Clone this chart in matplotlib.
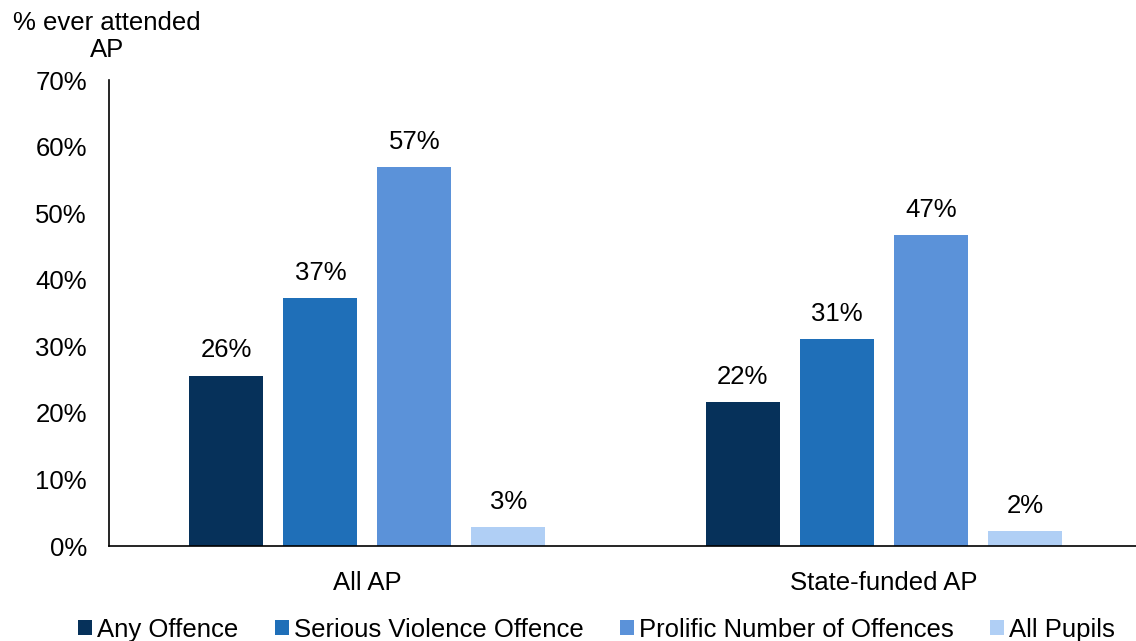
import numpy as np
import matplotlib.pyplot as plt

plt.rcParams["font.family"] = ["Liberation Sans", "DejaVu Sans"]

# Data
categories = ["All AP", "State-funded AP"]
series = ["Any Offence", "Serious Violence Offence",
          "Prolific Number of Offences", "All Pupils"]
values = [
    [25.6, 21.6],   # Any Offence
    [37.2, 31.1],   # Serious Violence Offence
    [56.9, 46.7],   # Prolific Number of Offences
    [2.9, 2.3],     # All Pupils
]
labels = [
    ["26%", "22%"],
    ["37%", "31%"],
    ["57%", "47%"],
    ["3%", "2%"],
]
colors = ["#06315A", "#1F6FB8", "#5B92D9", "#B0CFF5"]

fs = 18.5

fig = plt.figure(figsize=(11.36, 6.41), dpi=100)
ax = fig.add_axes([0.096, 0.148, 0.904, 0.727])

x = np.arange(len(categories))
step = 0.182
width = 0.143
for i, (name, vals) in enumerate(zip(series, values)):
    pos = x + (i - 1.5) * step
    ax.bar(pos, vals, width, color=colors[i], label=name)
    for p, v, lab in zip(pos, vals, labels[i]):
        ax.text(p, v + 2.0, lab, ha="center", va="bottom", fontsize=fs)

ax.set_xlim(-0.5, 1.488)
ax.set_ylim(0, 70)
ax.set_yticks(np.arange(0, 71, 10))
ax.set_yticklabels([f"{t}%" for t in range(0, 71, 10)], fontsize=fs)
ax.set_xticks(x)
ax.set_xticklabels(categories, fontsize=fs)
ax.tick_params(axis="y", length=0, pad=16)
ax.tick_params(axis="x", length=0, pad=18)
for s in ["top", "right"]:
    ax.spines[s].set_visible(False)
ax.spines["left"].set_linewidth(1.2)
ax.spines["bottom"].set_linewidth(1.2)

fig.text(0.094, 0.943, "% ever attended\nAP", ha="center", va="center",
         fontsize=fs, linespacing=1.15)

fig.legend(loc="lower center", bbox_to_anchor=(0.525, -0.037), ncol=4,
           frameon=False, fontsize=fs, handlelength=0.55, handleheight=0.55,
           handletextpad=0.2, columnspacing=1.4)

fig.savefig("out.png", dpi=100)
